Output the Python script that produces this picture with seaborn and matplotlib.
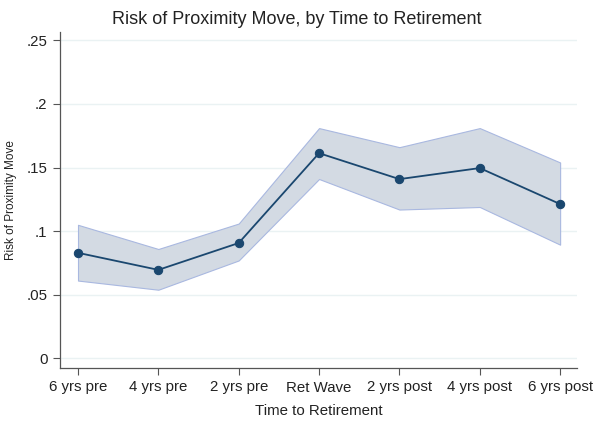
import matplotlib
matplotlib.use("Agg")
import matplotlib.pyplot as plt
import seaborn as sns
import numpy as np
import pandas as pd

categories = ["6 yrs pre", "4 yrs pre", "2 yrs pre", "Ret Wave", "2 yrs post", "4 yrs post", "6 yrs post"]
risk = [0.083, 0.0696, 0.0907, 0.1613, 0.1409, 0.1496, 0.1213]
ci_upper = [0.105, 0.086, 0.106, 0.181, 0.166, 0.181, 0.154]
ci_lower = [0.0612, 0.054, 0.077, 0.141, 0.117, 0.119, 0.0894]
y_ticks = [0, 0.05, 0.1, 0.15, 0.2, 0.25]
y_ticklabels = ["0", ".05", ".1", ".15", ".2", ".25"]

sns.set_style("white")
plt.rcParams['font.family'] = ['Liberation Sans', 'DejaVu Sans']

df = pd.DataFrame({"pos": np.arange(len(categories)), "risk": risk,
                   "lo": ci_lower, "hi": ci_upper})

fig = plt.figure(figsize=(5.93, 4.25), dpi=100)
ax = fig.add_axes([60/593, 1 - 368/425, (577-60)/593, (368-32)/425])

ax.fill_between(df["pos"], df["lo"], df["hi"], facecolor="#d3dae3",
                edgecolor="#a9b8e0", linewidth=0.8, zorder=1)
sns.lineplot(data=df, x="pos", y="risk", ax=ax, color="#1a476f", linewidth=1.3,
             marker="o", markersize=6, markeredgecolor="#1a476f", zorder=3)

ax.set_xlim(-0.224, 6.21)
ax.set_ylim(-0.0075, 0.2565)
ax.set_xticks(df["pos"])
ax.set_xticklabels(categories, fontsize=10.8, color="#222222")
ax.set_yticks(y_ticks)
ax.set_yticklabels(y_ticklabels, fontsize=10.8, color="#222222")
for y in y_ticks:
    ax.axhline(y, color="#eaf2f3", linewidth=1, zorder=0)

for s in ["top", "right"]:
    ax.spines[s].set_visible(False)
for s in ["left", "bottom"]:
    ax.spines[s].set_color("#555555")
    ax.spines[s].set_linewidth(0.9)
ax.tick_params(axis="both", direction="out", length=5, width=0.8, color="#555555",
               bottom=True, left=True, pad=4)

ax.set_xlabel("Time to Retirement", fontsize=10.8, color="#222222", labelpad=7)
ax.set_ylabel("Risk of Proximity Move", fontsize=8.5, color="#222222", labelpad=7)
fig.suptitle("Risk of Proximity Move, by Time to Retirement", x=0.5, y=0.975,
             fontsize=13, color="#222222")

fig.savefig("out.png", dpi=100)
